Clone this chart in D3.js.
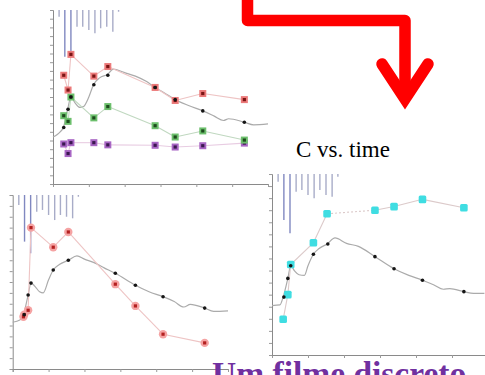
<!DOCTYPE html>
<html>
<head>
<meta charset="utf-8">
<script src="https://cdn.jsdelivr.net/npm/d3@7"></script>
<style>
  body { margin: 0; background: #fff; }
  svg { display: block; }
</style>
</head>
<body>
<script>
// dosing times (shared by the three panels)
const doseTimes = [0.17, 0.33, 0.5, 0.67, 0.83, 1.0, 1.17, 1.33, 1.5, 1.67, 1.83];

// panel 1 (top left)
const p1Doses = [3.9, 26.8, 24.9, 9.6, 9.6, 11.5, 13.4, 10.5, 9.6, 12.5, 1.0];
const p1Times = [0.3, 0.42, 0.5, 1.14, 1.53, 2.85, 3.41, 4.18, 5.34];
const p1Red = [12.5, 10.8, 14.9, 12.4, 13.5, 11.1, 9.6, 10.4, 9.7];
const p1Black = [6.5, 8.6, 10.0, 11.4, 12.5, 11.1, 9.7, 8.4, 7.1];
const p1Green = [7.85, 7.2, 10.0, 7.6, 8.9, 6.7, 5.4, 6.1, 5.05];
const p1Purple = [4.6, 3.5, 4.75, 4.75, 4.5, 4.45, 4.25, 4.4, 4.7];
const p1CurveT = [0, 0.12, 0.2, 0.29, 0.41, 0.5, 0.62, 0.75, 0.85, 1.0, 1.13, 1.3, 1.52, 1.68, 2.0, 2.3, 2.6, 2.85, 3.1, 3.41, 3.8, 4.18, 4.5, 4.76, 4.9, 5.34, 5.6, 6.0];
const p1CurveC = [5.4, 5.7, 6.0, 6.5, 8.6, 10.0, 9.3, 8.8, 8.9, 10.0, 11.4, 12.2, 12.6, 13.2, 12.8, 12.4, 11.8, 11.1, 10.5, 9.7, 9.0, 8.4, 7.8, 7.3, 7.5, 7.1, 6.8, 6.9];

// panel 2 (bottom left)
const p2Doses = [5.7, 26.8, 33.5, 9.6, 8.6, 11.5, 14.4, 11.5, 12.5, 13.4, 1.0];
const p2RedTimes = [0.3, 0.32, 0.43, 0.51, 1.13, 1.55, 2.86, 3.42, 4.19, 5.35];
const p2Red = [4.8, 5.0, 5.4, 13.0, 11.2, 12.6, 7.8, 5.8, 3.2, 2.4];
const p2BlackTimes = [0.32, 0.43, 0.51, 1.13, 1.55, 2.86, 3.42, 4.19, 5.35];
const p2Black = [5.0, 6.8, 7.9, 9.1, 10.0, 8.8, 7.7, 6.65, 5.6];
const p2CurveT = [0, 0.2, 0.3, 0.43, 0.51, 0.62, 0.75, 0.85, 1.0, 1.13, 1.3, 1.55, 1.79, 2.0, 2.25, 2.55, 2.86, 3.42, 3.8, 4.19, 4.5, 4.77, 4.95, 5.35, 5.6, 6.0];
const p2CurveC = [4.3, 4.5, 5.0, 6.8, 7.9, 7.6, 7.1, 7.0, 8.2, 9.1, 9.6, 10.0, 10.4, 10.1, 9.8, 9.3, 8.8, 7.7, 7.1, 6.65, 6.2, 5.7, 5.95, 5.6, 5.3, 5.35];

// panel 3 (bottom right)
const p3Doses = [4.3, 25.4, 32.8, 9.8, 8.8, 11.6, 13.4, 8.8, 11.6, 12.5, 1.5];
const p3CyanTimes = [0.31, 0.44, 0.52, 1.15, 1.53, 2.86, 3.39, 4.18, 5.33];
const p3Cyan = [2.96, 5.0, 7.5, 9.3, 11.7, 12.0, 12.3, 12.9, 12.2];
const p3BlackTimes = [0.33, 0.44, 0.52, 1.15, 1.55, 2.86, 3.39, 4.18, 5.33];
const p3Black = [4.8, 6.35, 7.4, 8.35, 9.2, 8.15, 7.15, 6.2, 5.25];
const p3CurveT = [0, 0.22, 0.31, 0.44, 0.52, 0.62, 0.75, 0.9, 1.0, 1.15, 1.3, 1.53, 1.75, 2.07, 2.4, 2.86, 3.39, 3.8, 4.18, 4.5, 4.76, 4.94, 5.33, 5.6, 5.9];
const p3CurveC = [4.1, 4.15, 4.8, 6.35, 7.4, 7.0, 6.65, 6.6, 7.4, 8.35, 8.8, 9.2, 9.7, 9.25, 9.0, 8.15, 7.15, 6.6, 6.2, 5.8, 5.45, 5.5, 5.25, 5.1, 5.1];

const title = "C vs. time";
const caption = "Um filme discreto";

const W = 485, H = 375;
const svg = d3.select("body").append("svg").attr("width", W).attr("height", H);

const zip = (ts, vs) => ts.map((t, i) => ({ t, v: vs[i] }));

const drawPanel = (p) => {
  const x = d3.scaleLinear().domain([0, 6]).range([p.left, p.right]);
  const y = d3.scaleLinear().domain([0, p.yMax]).range([p.bottom, p.top]);
  const dose = d3.scaleLinear().domain([0, 100]).range([0, p.bottom - p.top]);
  const g = svg.append("g");

  const xAxis = g.append("g")
    .attr("transform", `translate(0,${p.bottom})`)
    .call(d3.axisBottom(x).tickValues(d3.range(0, 7)).tickSize(3).tickFormat(""));
  const yAxis = g.append("g")
    .attr("transform", `translate(${p.left},0)`)
    .call(d3.axisLeft(y).tickValues(d3.range(0, p.yMax + 1)).tickSize(3).tickFormat(""));
  [xAxis, yAxis].forEach((a) => {
    a.select(".domain").attr("stroke", "#8a8a8a");
    a.selectAll(".tick line").attr("stroke", "#9a9a9a");
  });

  // dosing bars hanging from the top
  g.selectAll(".dose")
    .data(doseTimes)
    .join("line")
    .attr("class", "dose")
    .attr("x1", (d) => x(d))
    .attr("x2", (d) => x(d))
    .attr("y1", p.top)
    .attr("y2", (d, i) => p.top + dose(p.doses[i]))
    .attr("stroke", (d, i) => (p.doses[i] > 20 ? "#8088c0" : "#a8acc8"))
    .attr("stroke-width", 1.4);

  const line = d3.line().x((d) => x(d.t)).y((d) => y(d.v));

  // model curve
  g.append("path")
    .datum(zip(p.curveT, p.curveC))
    .attr("fill", "none")
    .attr("stroke", "#ababab")
    .attr("stroke-width", 1.2)
    .attr("d", line.curve(d3.curveMonotoneX));

  const flat = d3.line().x((d) => x(d.t)).y((d) => y(d.v));

  p.series.forEach((s) => {
    const pts = zip(s.times, s.values);
    if (s.lineColor) {
      g.selectAll(null)
        .data(d3.pairs(pts))
        .join("path")
        .attr("fill", "none")
        .attr("stroke", s.lineColor)
        .attr("stroke-width", 1.1)
        .attr("stroke-dasharray", (d, i) => (s.dotted === i ? "2,2" : null))
        .attr("d", (d) => flat(d));
    }
  });

  p.series.forEach((s) => {
    const pts = zip(s.times, s.values);
    if (s.kind === "square") {
      g.selectAll(null).data(pts).join("rect")
        .attr("x", (d) => x(d.t) - 3.5).attr("y", (d) => y(d.v) - 3.5)
        .attr("width", 7).attr("height", 7)
        .attr("fill", s.outer);
      g.selectAll(null).data(pts).join("rect")
        .attr("x", (d) => x(d.t) - 1.6).attr("y", (d) => y(d.v) - 1.6)
        .attr("width", 3.2).attr("height", 3.2)
        .attr("fill", s.inner);
    } else if (s.kind === "circle") {
      g.selectAll(null).data(pts).join("circle")
        .attr("cx", (d) => x(d.t)).attr("cy", (d) => y(d.v)).attr("r", 4.2)
        .attr("fill", s.outer);
      g.selectAll(null).data(pts).join("rect")
        .attr("x", (d) => x(d.t) - 1.6).attr("y", (d) => y(d.v) - 1.6)
        .attr("width", 3.2).attr("height", 3.2)
        .attr("fill", s.inner);
    } else if (s.kind === "cyan") {
      g.selectAll(null).data(pts).join("rect")
        .attr("x", (d) => x(d.t) - 3.8).attr("y", (d) => y(d.v) - 3.8)
        .attr("width", 7.6).attr("height", 7.6).attr("rx", 1.5)
        .attr("fill", s.outer);
    } else {
      g.selectAll(null).data(pts).join("circle")
        .attr("cx", (d) => x(d.t)).attr("cy", (d) => y(d.v)).attr("r", 1.8)
        .attr("fill", "#151515");
    }
  });
};

drawPanel({
  left: 53, right: 268, top: 10, bottom: 184, yMax: 20,
  doses: p1Doses, curveT: p1CurveT, curveC: p1CurveC,
  series: [
    { times: p1Times, values: p1Purple, kind: "square", outer: "#a866c4", inner: "#3b1850", lineColor: "#e8cce2" },
    { times: p1Times, values: p1Green, kind: "square", outer: "#6cbf6c", inner: "#1d4a1d", lineColor: "#c0d8c0" },
    { times: p1Times, values: p1Red, kind: "square", outer: "#ec7a7a", inner: "#7a1414", lineColor: "#eec4c4" },
    { times: p1Times, values: p1Black, kind: "dot" },
  ],
});

drawPanel({
  left: 12.7, right: 228, top: 195, bottom: 369, yMax: 16,
  doses: p2Doses, curveT: p2CurveT, curveC: p2CurveC,
  series: [
    { times: p2RedTimes, values: p2Red, kind: "circle", outer: "#f5a3a3", inner: "#b32020", lineColor: "#eec4c4" },
    { times: p2BlackTimes, values: p2Black, kind: "dot" },
  ],
});

drawPanel({
  left: 272, right: 488, top: 174, bottom: 355, yMax: 15,
  doses: p3Doses, curveT: p3CurveT, curveC: p3CurveC,
  series: [
    { times: p3CyanTimes, values: p3Cyan, kind: "cyan", outer: "#3fdde2", lineColor: "#dccaca", dotted: 4 },
    { times: p3BlackTimes, values: p3Black, kind: "dot" },
  ],
});

// red arrow
svg.append("path")
  .attr("d", "M247.5,-8 L247.5,20.5 L405,20.5 L405,100")
  .attr("fill", "none")
  .attr("stroke", "#ff0000")
  .attr("stroke-width", 11.5)
  .attr("stroke-linejoin", "round");
svg.append("path")
  .attr("d", "M382,64 L405,99 L428,64")
  .attr("fill", "none")
  .attr("stroke", "#ff0000")
  .attr("stroke-width", 11.5)
  .attr("stroke-linecap", "round")
  .attr("stroke-linejoin", "miter");

svg.append("text")
  .attr("x", 296)
  .attr("y", 157)
  .attr("font-family", "'Liberation Serif', 'Times New Roman', serif")
  .attr("font-size", 23)
  .attr("fill", "#000")
  .text(title);

// caption runs off the bottom edge, as in the reference
svg.append("text")
  .attr("x", 212)
  .attr("y", 385)
  .attr("font-family", "'Liberation Serif', 'Times New Roman', serif")
  .attr("font-weight", "bold")
  .attr("font-size", 33.5)
  .attr("fill", "#7030a0")
  .text(caption);
</script>
</body>
</html>
